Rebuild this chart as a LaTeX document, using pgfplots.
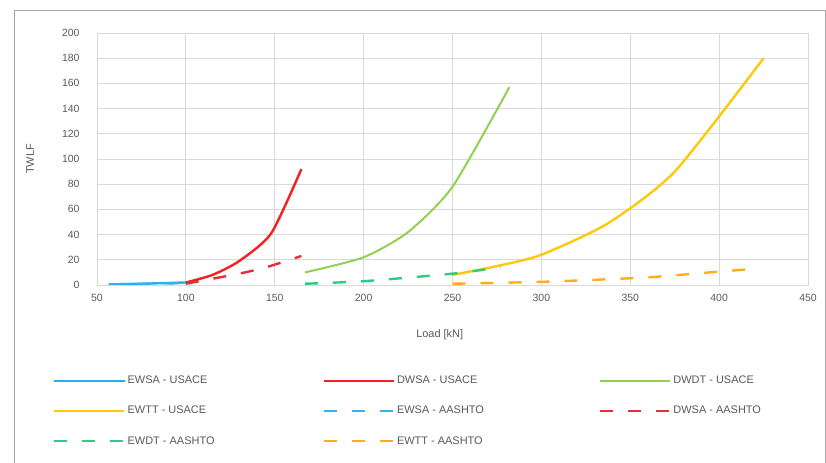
\documentclass[border=0pt]{standalone}
\usepackage{pgfplots}
\pgfplotsset{compat=1.18}
\usepackage{fontspec}
\setmainfont{Liberation Sans}
\definecolor{txt}{HTML}{595959}
\definecolor{gridc}{HTML}{D9D9D9}
\definecolor{cblue}{HTML}{1FB4F0}
\definecolor{cred}{HTML}{F52020}
\definecolor{cgreen}{HTML}{92D050}
\definecolor{cyellow}{HTML}{FFC80A}
\definecolor{cbluedash}{HTML}{3AB0EA}
\definecolor{creddash}{HTML}{E0303A}
\definecolor{cgreendash}{HTML}{2ECC80}
\definecolor{corangedash}{HTML}{FFAE1A}
\begin{document}
\begin{tikzpicture}[x=1bp,y=1bp]
\useasboundingbox (0,0) rectangle (826,463);
\draw[color=gray!70, line width=0.8bp] (14,-5) -- (14,453) -- (825,453) -- (825,-5);
\begin{axis}[
  at={(97bp,178bp)}, anchor=south west,
  scale only axis, width=711bp, height=252bp,
  xmin=50, xmax=450, ymin=0, ymax=200,
  xtick={50,100,...,450}, ytick={0,20,...,200},
  major tick length=0pt,
  grid=major, grid style={gridc, line width=0.8bp},
  axis line style={gridc, line width=0.8bp},
  tick label style={font=\fontsize{10.5}{12}\selectfont, text=txt},
  xticklabel style={yshift=-6bp},
  yticklabel style={xshift=-14bp},
  /pgf/number format/assume math mode=true,
  xlabel={Load [kN]}, ylabel={TWLF},
  label style={font=\fontsize{11}{13}\selectfont, text=txt},
  xlabel style={at={(axis description cs:0.482,-0.198)}, anchor=center},
  ylabel style={at={(axis description cs:-0.094,0.5)}, anchor=center},
  legend columns=3,
  legend style={at={(-0.066,-0.345)}, anchor=north west, draw=none, fill=none,
    font=\fontsize{11}{13}\selectfont, text=txt, row sep=17bp, column sep=0bp,
    nodes={inner sep=2bp}},
  legend cell align=left,
  legend image code/.code={\draw[#1] (0bp,0bp) -- (70bp,0bp);},
  every axis plot/.append style={line width=2.4bp, line join=round},
]
\addplot[cblue, line cap=round] coordinates {(57,0.5) (75,1) (100,2)};
\addlegendentry{\makebox[193bp][l]{EWSA - USACE}}
\addplot[cred, smooth, tension=0.4] coordinates {(100,2) (115,8) (130,19) (148,41) (165,92)};
\addlegendentry{\makebox[200bp][l]{DWSA - USACE}}
\addplot[cgreen, line width=2bp, smooth, tension=0.4] coordinates {(167,10) (200,22) (225,42) (250,78) (282,157)};
\addlegendentry{DWDT - USACE}
\addplot[cyellow, smooth, tension=0.4] coordinates {(250,8) (275,15) (300,24) (337.5,49) (375,90) (425,180)};
\addlegendentry{EWTT - USACE}
\addplot[cbluedash, dash pattern=on 13bp off 15bp] coordinates {(57,0.5) (100,1.5)};
\addlegendentry{EWSA - AASHTO}
\addplot[creddash, dash pattern=on 13bp off 15bp, smooth, tension=0.4] coordinates {(100,1) (115,5) (130,9) (145,14) (165,23)};
\addlegendentry{DWSA - AASHTO}
\addplot[cgreendash, dash pattern=on 13bp off 15bp, smooth, tension=0.4] coordinates {(167,1) (200,3) (250,9) (277,14)};
\addlegendentry{EWDT - AASHTO}
\addplot[corangedash, dash pattern=on 13bp off 15bp, smooth, tension=0.4] coordinates {(250,1) (300,2.5) (359,6) (403,11) (422,13)};
\addlegendentry{EWTT - AASHTO}
\end{axis}
\end{tikzpicture}
\end{document}
